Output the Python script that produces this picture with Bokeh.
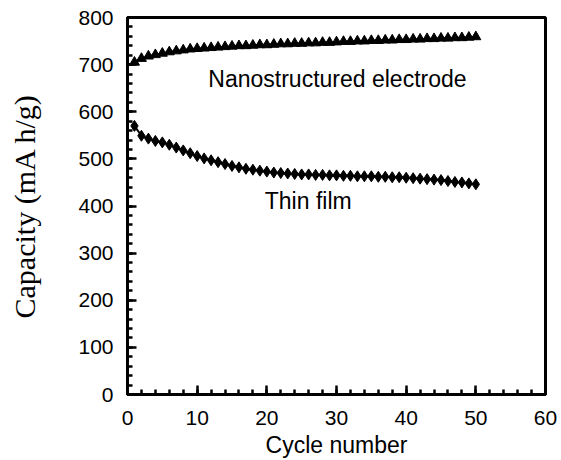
from bokeh.plotting import figure
from bokeh.models import Range1d, Label, FixedTicker
from bokeh.embed import file_html
from bokeh.resources import INLINE

cycles = list(range(1, 51))
nano = [705, 713, 718, 721, 724, 727, 729, 731, 733, 734,
        735, 736, 737, 738, 739, 740, 740, 741, 742, 742,
        743, 744, 744, 745, 745, 746, 746, 747, 747, 748,
        749, 749, 750, 750, 751, 751, 752, 752, 753, 753,
        754, 754, 755, 755, 756, 756, 757, 757, 758, 759]
thin = [570, 549, 543, 538, 535, 530, 524, 518, 512, 506,
        501, 497, 493, 489, 485, 482, 479, 477, 475, 473,
        471, 470, 469, 468, 467, 467, 466, 466, 465, 465,
        464, 464, 463, 463, 463, 462, 462, 461, 461, 460,
        459, 458, 457, 456, 455, 453, 451, 450, 448, 446]
x_ticks = [0, 10, 20, 30, 40, 50, 60]
y_ticks = [0, 100, 200, 300, 400, 500, 600, 700, 800]

p = figure(width=561, height=460, output_backend="svg", toolbar_location=None,
           x_range=Range1d(0, 60), y_range=Range1d(0, 800),
           min_border_left=127, min_border_right=16, min_border_top=17, min_border_bottom=64)
p.grid.visible = False
p.background_fill_color = "white"
p.border_fill_color = "white"
p.outline_line_color = "black"
p.outline_line_width = 3

SANS = "Liberation Sans"
for ax in (p.xaxis[0], p.yaxis[0]):
    ax.axis_line_width = 3
    ax.axis_line_color = "black"
    ax.major_tick_in = 9
    ax.major_tick_out = 0
    ax.minor_tick_in = 5
    ax.minor_tick_out = 0
    ax.major_tick_line_width = 2.5
    ax.minor_tick_line_width = 2.5
    ax.major_label_text_font = SANS
    ax.major_label_text_font_size = "21px"
    ax.major_label_text_color = "black"
    ax.major_tick_line_color = "black"
    ax.minor_tick_line_color = "black"
    ax.axis_label_text_color = "black"
    ax.axis_label_text_font_style = "normal"

p.xaxis.ticker = FixedTicker(ticks=x_ticks, minor_ticks=list(range(0, 61, 2)))
p.yaxis.ticker = FixedTicker(ticks=y_ticks, minor_ticks=list(range(0, 801, 20)))
p.xaxis.major_label_standoff = 16
p.yaxis.major_label_standoff = 14

p.xaxis.axis_label = "Cycle number"
p.xaxis.axis_label_text_font = SANS
p.xaxis.axis_label_text_font_size = "23px"
p.xaxis.axis_label_standoff = 4
p.yaxis.axis_label = "Capacity (mA h/g)"
p.yaxis.axis_label_text_font = "Liberation Serif"
p.yaxis.axis_label_text_font_size = "30px"
p.yaxis.axis_label_standoff = 34

p.line(cycles, nano, line_color="black", line_width=2)
p.scatter(cycles, nano, marker="triangle", size=10, fill_color="black", line_color="black")
p.line(cycles, thin, line_color="black", line_width=2)
p.scatter(cycles, thin, marker="diamond", size=11, fill_color="black", line_color="black")

p.add_layout(Label(x=11.6, y=670, text="Nanostructured electrode", text_font=SANS,
                   text_font_size="23px", text_color="black", text_baseline="alphabetic"))
p.add_layout(Label(x=19.7, y=411, text="Thin film", text_font=SANS,
                   text_font_size="23px", text_color="black", text_baseline="alphabetic"))

open("out.html", "w").write(file_html(p, INLINE))
